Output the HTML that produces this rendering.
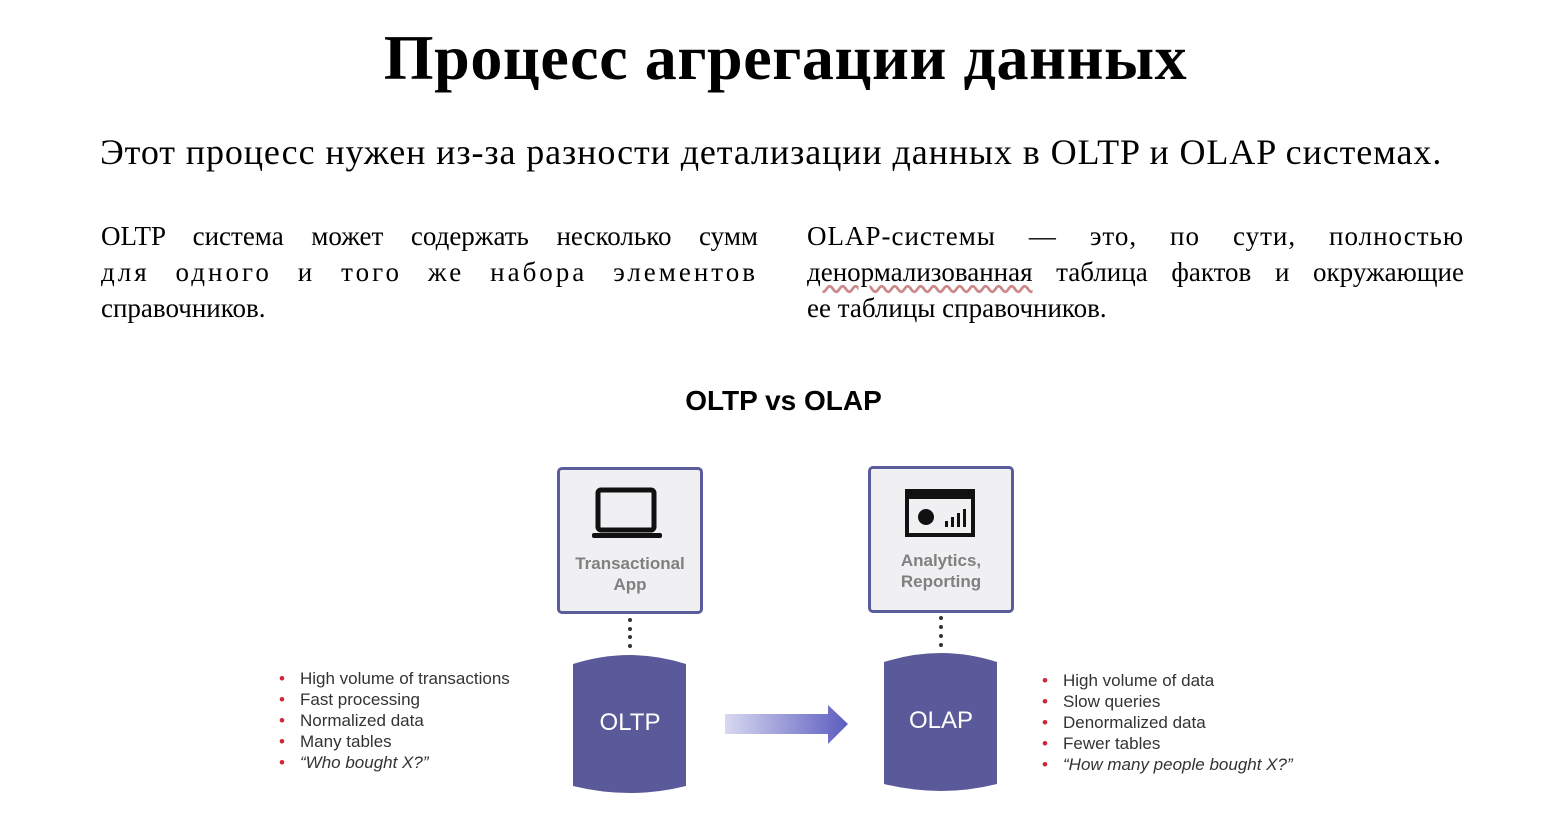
<!DOCTYPE html>
<html><head><meta charset="utf-8"><style>
body{margin:0;width:1557px;height:825px;background:#fff;position:relative;overflow:hidden;font-family:"Liberation Serif",serif;color:#000}
.a{position:absolute}
h1{position:absolute;left:0;width:1571px;top:20px;margin:0;text-align:center;font-size:64px;font-weight:bold;line-height:76px;letter-spacing:0.6px}
.sub{left:100px;top:130px;font-size:36px;line-height:44px;white-space:nowrap;letter-spacing:0.9px}
.p{font-size:27px;line-height:36px;width:657px}
.p div{text-align:justify;text-align-last:justify;white-space:nowrap}
.p div.l{text-align-last:left}
.s{font-family:"Liberation Sans",sans-serif}
ul{margin:0;padding:0;list-style:none;font-family:"Liberation Sans",sans-serif;font-size:17px;line-height:21px;color:#333}
li::before{content:"•";color:#d0243a;position:absolute;margin-left:-21px}
.box{border:3px solid #5b5c9c;border-radius:5px;background:#f0f0f3;box-sizing:border-box;width:146px;height:147px;text-align:center;font-family:"Liberation Sans",sans-serif;font-weight:bold;color:#808080;font-size:17px;line-height:21px}
</style></head><body>
<h1>Процесс агрегации данных</h1>
<div class="a sub">Этот процесс нужен из-за разности детализации данных в OLTP и OLAP системах.</div>
<div class="a p" style="left:101px;top:218px"><div>OLTP система может содержать несколько сумм</div><div style="letter-spacing:3px">для одного и того же набора элементов</div><div class="l">справочников.</div></div>
<div class="a p" style="left:807px;top:218px"><div style="letter-spacing:1px">OLAP-системы — это, по сути, полностью</div><div><span style="text-decoration:underline wavy #c88;text-underline-offset:4px">денормализованная</span> таблица фактов и окружающие</div><div class="l">ее таблицы справочников.</div></div>
<div class="a s" style="left:0;width:1567px;text-align:center;top:385px;font-size:28px;font-weight:bold">OLTP vs OLAP</div>

<div class="a box" style="left:557px;top:467px"><svg width="80" height="60" style="margin-top:16px" viewBox="0 0 80 60"><rect x="8" y="4" width="56" height="40" rx="3" fill="none" stroke="#111" stroke-width="5"/><rect x="2" y="47" width="70" height="5" rx="2" fill="#111"/></svg><div style="margin-top:2px">Transactional<br>App</div></div>
<div class="a box" style="left:868px;top:466px"><svg width="80" height="60" style="margin-top:16px" viewBox="0 0 80 60"><rect x="6" y="6" width="66" height="44" fill="none" stroke="#111" stroke-width="4"/><rect x="6" y="6" width="66" height="8" fill="#111"/><circle cx="25" cy="32" r="8" fill="#111"/><rect x="44" y="36" width="3" height="6" fill="#111"/><rect x="50" y="32" width="3" height="10" fill="#111"/><rect x="56" y="28" width="3" height="14" fill="#111"/><rect x="62" y="24" width="3" height="18" fill="#111"/></svg><div style="margin-top:0px">Analytics,<br>Reporting</div></div>

<svg class="a" style="left:0;top:0" width="1557" height="825">
<defs><linearGradient id="g" x1="0" x2="1"><stop offset="0" stop-color="#d8d8f0"/><stop offset="1" stop-color="#5c5cc0"/></linearGradient></defs>
<g fill="#333"><circle cx="630" cy="620" r="2"/><circle cx="630" cy="629" r="2"/><circle cx="630" cy="637" r="2"/><circle cx="630" cy="646" r="2"/>
<circle cx="941" cy="618" r="2"/><circle cx="941" cy="627" r="2"/><circle cx="941" cy="636" r="2"/><circle cx="941" cy="645" r="2"/></g>
<path d="M573 664 Q630 646 686 664 V786 Q630 800 573 786 Z" fill="#5a5a9a"/>
<path d="M884 662 Q941 644 997 662 V784 Q941 798 884 784 Z" fill="#5a5a9a"/>
<text x="630" y="730" fill="#fff" font-family="Liberation Sans" font-size="24" text-anchor="middle">OLTP</text>
<text x="941" y="728" fill="#fff" font-family="Liberation Sans" font-size="24" text-anchor="middle">OLAP</text>
<path d="M725 714 H828 V705 L848 724 L828 744 V734 H725 Z" fill="url(#g)"/>
</svg>

<ul class="a" style="left:300px;top:668px"><li>High volume of transactions</li><li>Fast processing</li><li>Normalized data</li><li>Many tables</li><li><i>“Who bought X?”</i></li></ul>
<ul class="a" style="left:1063px;top:670px"><li>High volume of data</li><li>Slow queries</li><li>Denormalized data</li><li>Fewer tables</li><li><i>“How many people bought X?”</i></li></ul>
</body></html>
